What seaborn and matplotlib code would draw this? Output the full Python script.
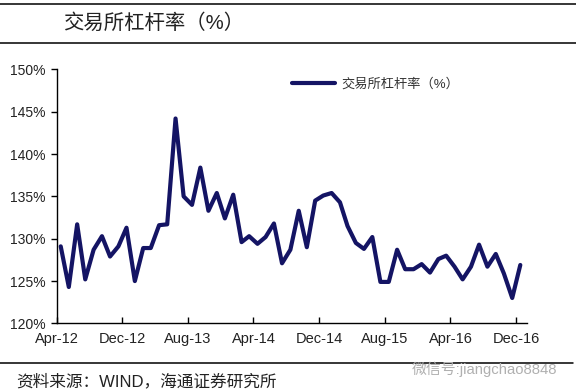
import pandas as pd
import seaborn as sns
import matplotlib.pyplot as plt
import matplotlib.dates as mdates
from matplotlib.ticker import FuncFormatter
from matplotlib.lines import Line2D

# monthly exchange leverage ratio (%), Apr-2012 .. Dec-2016
months = pd.date_range("2012-04-01", "2016-12-01", freq="MS")
leverage = [129.1, 124.3, 131.7, 125.2, 128.7, 130.3, 127.9, 129.1, 131.3, 125.0,
            128.9, 128.9, 131.6, 131.7, 144.2, 135.0, 134.0, 138.4, 133.3, 135.4,
            132.4, 135.2, 129.6, 130.3, 129.4, 130.2, 131.8, 127.1, 128.7, 133.3,
            129.0, 134.5, 135.1, 135.4, 134.3, 131.5, 129.5, 128.8, 130.2, 124.9,
            124.9, 128.7, 126.4, 126.4, 127.0, 126.0, 127.6, 128.0, 126.7, 125.2,
            126.7, 129.3, 126.7, 128.2, 125.9, 123.0, 126.9]
tick_months = pd.date_range("2012-04-01", periods=8, freq="8MS")
y_ticks = [120, 125, 130, 135, 140, 145, 150]

series_name = "交易所杠杆率（%）"
title = "交易所杠杆率（%）"
source = "资料来源：WIND，海通证券研究所"
watermark = "微信号:jiangchao8848"

df = pd.DataFrame({"date": months + pd.Timedelta(days=15), "value": leverage})

sns.set_style("white")
plt.rcParams["font.family"] = ["Liberation Sans", "Noto Sans CJK SC", "DejaVu Sans"]

fig = plt.figure(figsize=(5.76, 3.92), dpi=100)
ax = fig.add_axes([0.0984, 0.175, 0.8166, 0.648])

sns.lineplot(data=df, x="date", y="value", color="#141464", linewidth=3,
             label=series_name, ax=ax)
for ln in ax.get_lines():
    ln.set_solid_joinstyle("round")
    ln.set_solid_capstyle("round")

ax.set_ylim(120, 150)
ax.set_yticks(y_ticks)
ax.yaxis.set_major_formatter(FuncFormatter(lambda v, p: f"{v:.0f}%"))
ax.set_xlim(pd.Timestamp("2012-04-01"), pd.Timestamp("2017-01-10"))
ax.set_xticks(tick_months)
ax.xaxis.set_major_formatter(mdates.DateFormatter("%b-%y"))
ax.set_xlabel("")
ax.set_ylabel("")

for side in ["top", "right"]:
    ax.spines[side].set_visible(False)
for side in ["left", "bottom"]:
    ax.spines[side].set_color("black")
    ax.spines[side].set_linewidth(1.0)
ax.tick_params(axis="y", direction="out", length=4, width=1, color="black",
               labelsize=10, labelcolor="#222222", left=True, pad=4)
ax.tick_params(axis="x", direction="in", length=4, width=1, color="black",
               labelsize=10.5, labelcolor="#222222", bottom=True, pad=6)

leg = ax.legend(loc="upper left", bbox_to_anchor=(0.49, 0.985), frameon=False,
                handlelength=3.2, handletextpad=0.5, fontsize=9.5, borderaxespad=0)
for t in leg.get_texts():
    t.set_color("#333333")

# header and footer rules
fig.add_artist(Line2D([0, 1], [1 - 3.5 / 392, 1 - 3.5 / 392], color="black", lw=1.1))
fig.add_artist(Line2D([0, 1], [1 - 42.5 / 392, 1 - 42.5 / 392], color="black", lw=1.1))
fig.add_artist(Line2D([0, 0.995], [1 - 363 / 392, 1 - 363 / 392], color="black", lw=1.1))

fig.text(63 / 576, 1 - 23 / 392, title, fontsize=14.7, color="#222222",
         va="center", ha="left")
fig.text(16 / 576, 1 - 381.5 / 392, source, fontsize=12, color="#222222",
         va="center", ha="left")
fig.text(412 / 576, 1 - 369 / 392, watermark, fontsize=10.7, color="#b0b0b0",
         va="center", ha="left")

fig.savefig("out.png", dpi=100)
